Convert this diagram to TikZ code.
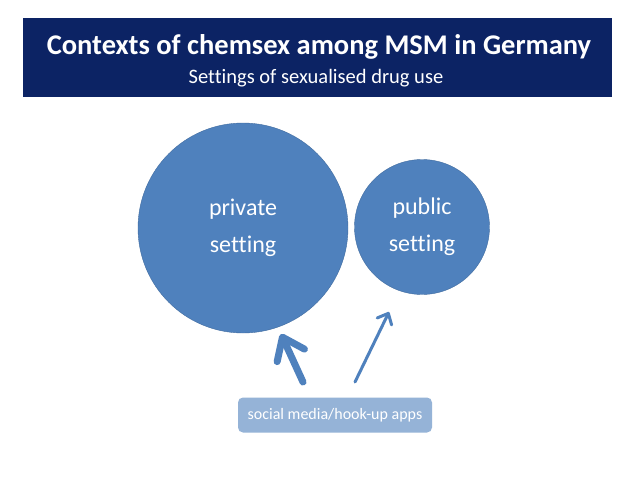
\documentclass[tikz,border=0pt]{standalone}
\usepackage{fontspec}
\setmainfont[Ligatures=NoCommon]{Carlito}
\usetikzlibrary{arrows.meta}
\definecolor{navy}{RGB}{12,35,100}
\definecolor{circblue}{RGB}{79,129,189}
\definecolor{circedge}{RGB}{65,108,160}
\definecolor{appblue}{RGB}{149,179,215}
\tikzset{
	setting/.style={circle,fill=circblue,draw=circedge,text=white,align=center,font=\fontsize{24}{37}\selectfont},
	link/.style={circblue,line cap=round,line join=round}
}

\begin{document}
\begin{tikzpicture}[x=1pt,y=-1pt]
	\useasboundingbox (0,0) rectangle (638,479);
	\fill[white] (0,0) rectangle (638,479);
	
	% title banner
	\node[fill=navy,minimum width=589pt,minimum height=79pt,anchor=north west] (banner) at (23,18) {};
	\node[text=white,font=\fontsize{28.5}{32}\selectfont\bfseries] (title) at (319,47) {Contexts of chemsex among MSM in Germany};
	\node[text=white,font=\fontsize{20.5}{24}\selectfont] (subtitle) at (316,78) {Settings of sexualised drug use};
	
	% settings
	\node[setting,minimum size=210pt] (private) at (243,228) {private\\setting};
	\node[setting,minimum size=135pt] (public) at (422,227) {public\\setting};
	
	\node[fill=appblue,rounded corners=5pt,text=white,minimum width=194pt,minimum height=35pt,font=\fontsize{16}{18}\selectfont] (apps) at (335,415) {social media/hook-up apps};
	\coordinate (a1) at (303,382);
	\coordinate (a2) at (355,382);
	\coordinate (t1) at (281,334);
	\coordinate (t2) at (389,312);
	
	\draw[link,line width=7pt,-{Straight Barb[round,length=20pt,width=30pt]}] (a1) -- (t1);
	\draw[link,line width=3pt,-{Straight Barb[round,length=9pt,width=16pt]}] (a2) -- (t2);
\end{tikzpicture}
\end{document}
